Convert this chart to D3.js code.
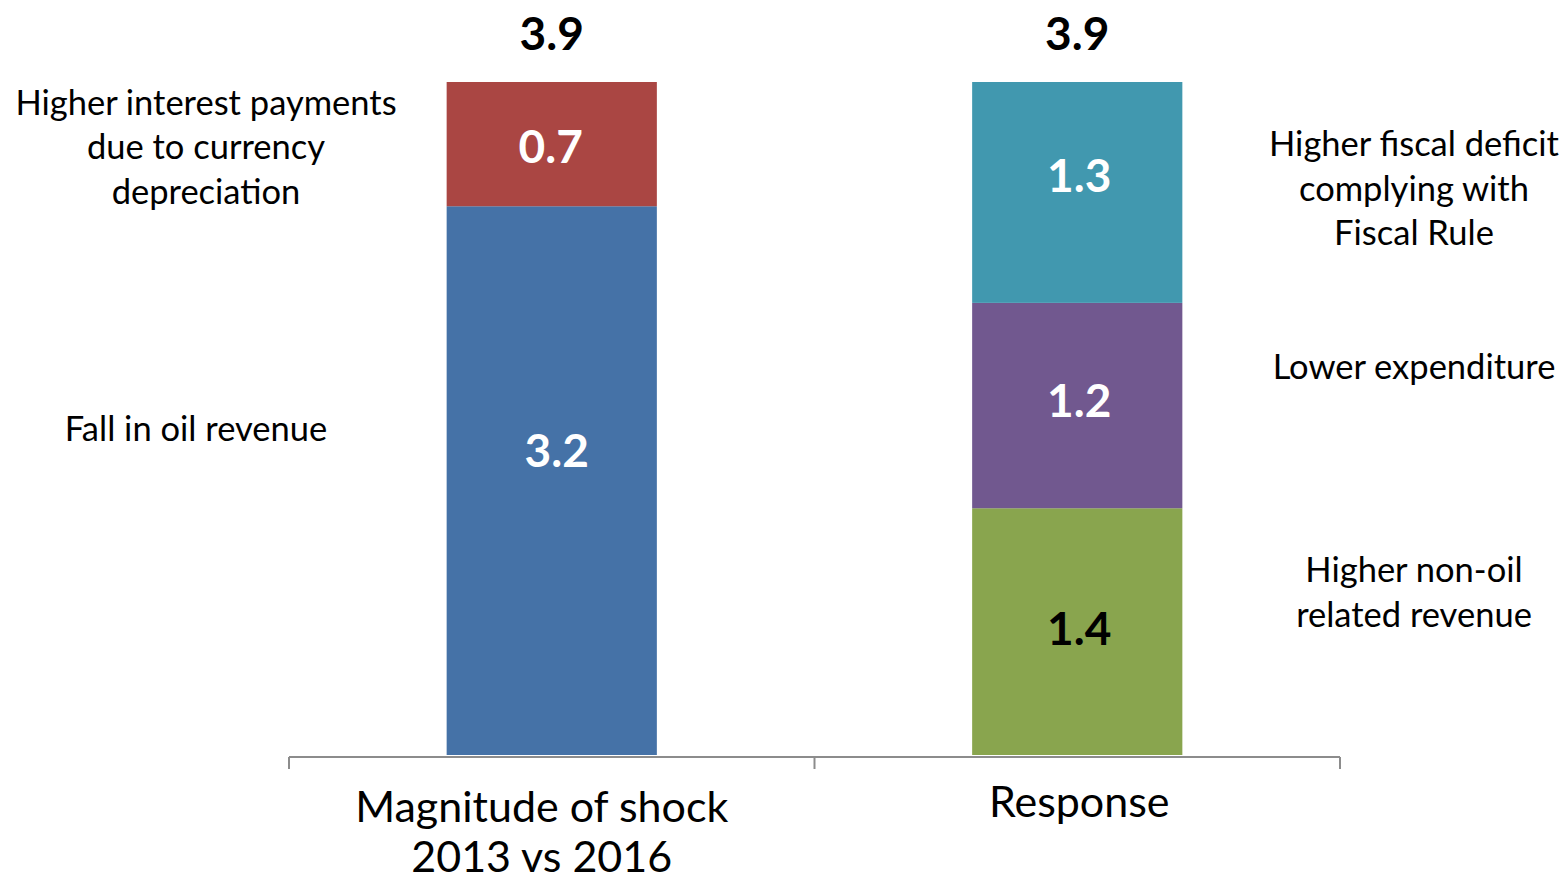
<!DOCTYPE html>
<html><head><meta charset="utf-8">
<script src="https://cdn.jsdelivr.net/npm/d3@7"></script>
<style>body{margin:0;background:#fff}svg{display:block}</style>
</head><body><svg id="c" width="1564" height="884"></svg>
<script>
const categories = ["Magnitude of shock|2013 vs 2016", "Response"];
const shockParts = ["Fall in oil revenue", "Higher interest payments|due to currency|depreciation"];
const shockValues = [3.18, 0.72];
const shockLabels = ["3.2", "0.7"];
const responseParts = ["Higher non-oil|related revenue", "Lower expenditure", "Higher fiscal deficit|complying with|Fiscal Rule"];
const responseValues = [1.43, 1.19, 1.28];
const responseLabels = ["1.4", "1.2", "1.3"];
const totals = ["3.9", "3.9"];

// layout (pixel nudges, not data)
const shockLayout = {valDx: [5, -1], valDy: [-30, 2], annX: [196, 206], annDy: [-52, 3]};
const responseLayout = {valDx: [2, 2, 2], valDy: [-3, -5, -17], annX: [1414, 1414, 1414], annDy: [-39, -39, -4]};

const shockColors = ["#4572A7", "#AA4643"];
const responseColors = ["#89A54E", "#71588F", "#4198AF"];
const responseLabelColors = ["#000", "#fff", "#fff"];

const svg = d3.select("#c");
const x = d3.scaleBand().domain(categories).range([289, 1340]).paddingInner(0.6).paddingOuter(0.3);
const y = d3.scaleLinear().domain([0, 3.9]).range([755, 82]);
const annFont = "Lato, 'Open Sans', sans-serif";

function stack(vals) { let acc = 0; return vals.map(v => { const s = {y0: acc, y1: acc + v}; acc += v; return s; }); }

const groups = [
  {cat: categories[0], vals: shockValues, labels: shockLabels, colors: shockColors, lc: ["#fff","#fff"], parts: shockParts, L: shockLayout},
  {cat: categories[1], vals: responseValues, labels: responseLabels, colors: responseColors, lc: responseLabelColors, parts: responseParts, L: responseLayout}
];

groups.forEach((g, gi) => {
  const st = stack(g.vals);
  const gg = svg.append("g");
  const cx = x(g.cat) + x.bandwidth() / 2;
  gg.selectAll("rect").data(st).join("rect")
    .attr("x", x(g.cat)).attr("width", x.bandwidth())
    .attr("y", d => y(d.y1)).attr("height", d => y(d.y0) - y(d.y1))
    .attr("fill", (d, i) => g.colors[i]);
  gg.selectAll("text.val").data(st).join("text").attr("class", "val")
    .attr("x", (d, i) => cx + g.L.valDx[i])
    .attr("y", (d, i) => (y(d.y0) + y(d.y1)) / 2 + g.L.valDy[i])
    .attr("dy", "0.36em").attr("text-anchor", "middle")
    .attr("font-family", annFont).attr("font-weight", "bold").attr("font-size", 46)
    .attr("fill", (d, i) => g.lc[i]).text((d, i) => g.labels[i]);
  gg.append("text").attr("x", cx).attr("y", y(d3.sum(g.vals)) - 49)
    .attr("dy", "0.36em").attr("text-anchor", "middle")
    .attr("font-family", annFont).attr("font-weight", "bold").attr("font-size", 46)
    .attr("fill", "#000").text(totals[gi]);
  st.forEach((d, i) => {
    const lines = g.parts[i].split("|");
    const cy = (y(d.y0) + y(d.y1)) / 2 + g.L.annDy[i];
    const t = gg.append("text").attr("text-anchor", "middle")
      .attr("font-family", annFont).attr("font-size", 34.5).attr("fill", "#000");
    const lh = 44.5;
    lines.forEach((ln, li) => {
      t.append("tspan").attr("x", g.L.annX[i]).attr("y", cy + (li - (lines.length - 1) / 2) * lh)
        .attr("dy", "0.35em").text(ln);
    });
  });
});

// axis
const axisY = 757;
const ax = svg.append("g").attr("transform", `translate(0,${axisY})`);
ax.append("line").attr("x1", 289).attr("x2", 1340).attr("stroke", "#8c8c8c").attr("stroke-width", 2);
const tickXs = [289, ...categories.slice(1).map(c => x(c) - x.step() * x.paddingInner() / 2), 1340];
ax.selectAll("line.tk").data(tickXs).join("line").attr("class", "tk")
  .attr("x1", d => d).attr("x2", d => d).attr("y1", 0).attr("y2", 12)
  .attr("stroke", "#8c8c8c").attr("stroke-width", 2);
categories.forEach((c, ci) => {
  const lines = c.split("|");
  const t = ax.append("text").attr("text-anchor", "middle")
    .attr("font-family", annFont).attr("font-size", 43).attr("fill", "#000");
  lines.forEach((ln, li) => {
    t.append("tspan").attr("x", x(c) + x.bandwidth() / 2 + (ci === 0 ? -10 : 2))
      .attr("y", (lines.length > 1 ? 50 : 45) + li * 50).attr("dy", "0.35em").text(ln);
  });
});
</script></body></html>
